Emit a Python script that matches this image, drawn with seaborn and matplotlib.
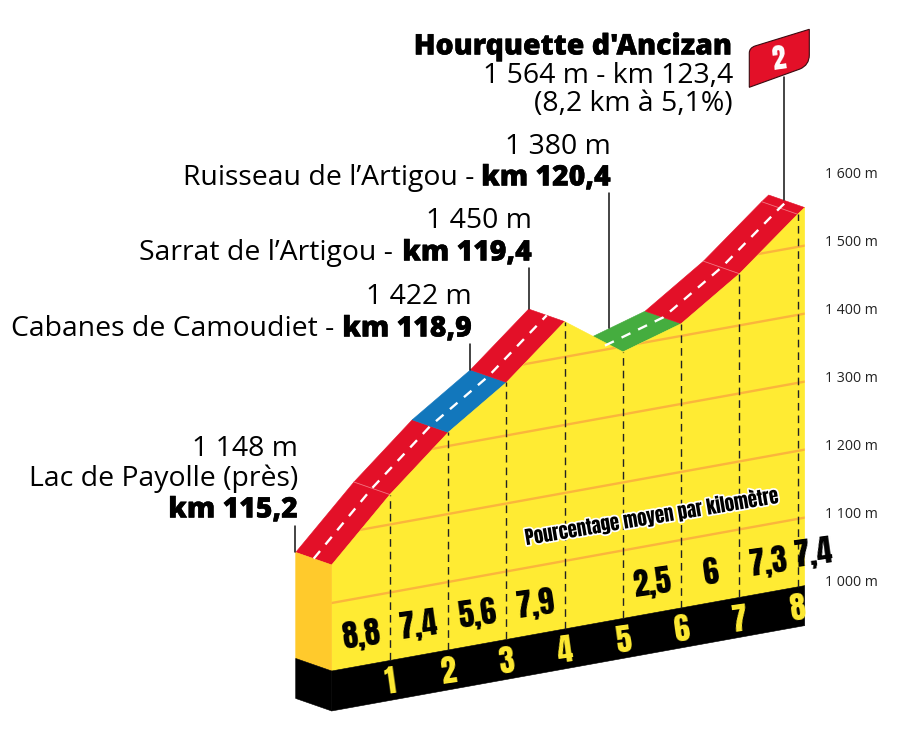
import matplotlib
matplotlib.use("Agg")
import matplotlib.pyplot as plt
import matplotlib.patheffects as pe
from matplotlib.path import Path
from matplotlib.patches import PathPatch
from matplotlib.transforms import Affine2D
import seaborn as sns

# profile
km = [0, 1, 2, 3, 4, 5, 6, 7, 8, 8.12]
alt = [1156, 1244, 1320, 1378, 1452, 1392, 1418, 1476, 1548, 1556]
road_from = [0, 1, 2, 3, 5, 6, 7, 8]
road_colors = ["red", "red", "blue", "red", "green", "red", "red", "red"]
pct_km = [0.5, 1.5, 2.5, 3.5, 5.5, 6.5, 7.5, 8.28]
pct_labels = ["8,8", "7,4", "5,6", "7,9", "2,5", "6", "7,3", "7,4"]
km_ticks = [1, 2, 3, 4, 5, 6, 7, 8]
alt_ticks = [1000, 1100, 1200, 1300, 1400, 1500, 1600]
alt_labels = ["1 000 m", "1 100 m", "1 200 m", "1 300 m", "1 400 m", "1 500 m", "1 600 m"]
grid_alts = [1100, 1200, 1300, 1400, 1500]

RED = "#e31028"
BLUE = "#1277bc"
GREEN = "#45ad3f"
YELLOW = "#ffeb33"
ORANGE = "#ffca2c"
GRID = "#fbb53c"
colors = {"red": RED, "blue": BLUE, "green": GREEN}

sns.set_theme(style="white")
plt.rcParams["font.family"] = ["Open Sans", "DejaVu Sans"]
NARROW = ["Anton", "Barlow Condensed", "Open Sans", "DejaVu Sans"]

fig = plt.figure(figsize=(9.12, 7.3), dpi=100)
ax = fig.add_axes([0, 0, 1, 1])
ax.set_xlim(-331.7 / 58.25, (912 - 331.7) / 58.25)
ax.set_ylim(1000 - 59 / 0.68, 1000 + 671 / 0.68)
ax.axis("off")

# the ground rises to the right on the page, so shear altitude with distance
skew = Affine2D.from_values(1, 15.46, 0, 1, 0, 0) + ax.transData
# pixel coords for labels and leader lines, y going down
px = Affine2D().scale(1, -1).translate(0, 730)

DEPTH_KM = -0.618
DEPTH_ALT = 28
BAND = 58.8


def poly(xs, ys, color, z):
    return ax.fill(xs, ys, color=color, lw=0.4, transform=skew, zorder=z)[0]


# road, behind the face
for start, col in zip(road_from, road_colors):
    i = km.index(start)
    k0, k1 = km[i], km[i + 1]
    a0, a1 = alt[i], alt[i + 1]
    poly([k0, k1, k1 + DEPTH_KM, k0 + DEPTH_KM],
         [a0, a1, a1 + DEPTH_ALT, a0 + DEPTH_ALT], colors[col], 2)

# faint joins across the road
for k in [1, 7, 8]:
    i = km.index(k)
    ax.plot([km[i], km[i] + DEPTH_KM], [alt[i], alt[i] + DEPTH_ALT],
            color="#f2737f", lw=0.6, transform=skew, zorder=3)

# yellow face, end block, black base
face = poly(km + [km[-1], km[0]], alt + [1000, 1000], YELLOW, 4)
poly([0, DEPTH_KM, DEPTH_KM, 0],
     [alt[0], alt[0] + DEPTH_ALT, 1000 + DEPTH_ALT, 1000], ORANGE, 4)
poly([0, km[-1], km[-1], 0], [1000, 1000, 1000 - BAND, 1000 - BAND], "black", 4)
poly([0, DEPTH_KM, DEPTH_KM, 0],
     [1000, 1000 + DEPTH_ALT, 1000 + DEPTH_ALT - BAND, 1000 - BAND], "black", 4)

# altitude lines, only visible on the face
for a in grid_alts:
    sns.lineplot(x=[0, km[-1]], y=[a, a], ax=ax, color=GRID, lw=1.7,
                 transform=skew, zorder=5, estimator=None, sort=False)
    ax.lines[-1].set_clip_path(face.get_path(), face.get_transform())

# km dashes
for k in km_ticks:
    i = km.index(k)
    ax.plot([k, k], [1000, alt[i]], color="#222222", lw=1.0,
            ls=(0, (5.5, 3.6)), transform=skew, zorder=6)

# road centre line, left and right of the descent
for part_k, part_a in [(km[:5], alt[:5]), (km[5:], alt[5:])]:
    sns.lineplot(x=[k + DEPTH_KM / 2 for k in part_k],
                 y=[a + DEPTH_ALT / 2 for a in part_a],
                 ax=ax, color="white", lw=1.7, ls=(0, (4.2, 3.6)),
                 transform=skew, zorder=7, estimator=None, sort=False)
ax.set_xlabel("")
ax.set_ylabel("")

# percentages and km numbers
for k, lab in zip(pct_km, pct_labels):
    ax.annotate(lab, xy=(k, 1045), xycoords=skew, ha="center", va="center",
                fontsize=22.5, family=NARROW, color="black",
                rotation=8, zorder=9)
for k in km_ticks:
    ax.annotate(str(k), xy=(k, 968), xycoords=skew, ha="center", va="center",
                fontsize=22.5, family=NARROW, color="#ffeb33",
                rotation=8, zorder=9)

# altitude scale on the right
for a, lab in zip(alt_ticks, alt_labels):
    ax.annotate(lab, xy=(km[-1], a), xycoords=skew, xytext=(47, 3),
                textcoords="offset pixels", ha="center", va="center",
                fontsize=10.2, color="#222222")

ax.text(651, 516, "Pourcentage moyen par kilomètre", transform=px, ha="center",
        va="center", fontsize=13.5, family=NARROW, color="black",
        rotation=9.5, zorder=9,
        path_effects=[pe.withStroke(linewidth=2.5, foreground="white")])

# leader lines
leaders = [(295, 526, 552), (470, 344, 370), (529.3, 268, 309),
           (609, 193, 328), (784, 77, 200)]
for x, y0, y1 in leaders:
    ax.plot([x, x], [y0, y1], color="#111111", lw=1.1, transform=px, zorder=8)

# summit flag
flag = Path([(749.3, 87.3), (749.3, 53), (749.3, 48), (755, 46), (809.3, 29.3),
             (809.3, 55), (809.3, 65), (800, 69), (749.3, 87.3)],
            [Path.MOVETO, Path.LINETO, Path.CURVE3, Path.CURVE3, Path.LINETO,
             Path.LINETO, Path.CURVE3, Path.CURVE3, Path.LINETO])
ax.add_patch(PathPatch(flag, fc=RED, ec="#3a0a10", lw=0.8, transform=px, zorder=9))
ax.text(779, 59, "2", transform=px, ha="center", va="center", fontsize=20,
        family=NARROW, color="white", rotation=8, zorder=10)


def label(x, y, s, bold=False, size=20.4):
    ax.text(x, y + 2, s, transform=px, ha="right", va="center", fontsize=size,
            weight=800 if bold else "normal", color="black", zorder=10,
            path_effects=[pe.withStroke(linewidth=0.3, foreground="black")] if bold else None)


label(733, 45, "Hourquette d'Ancizan", bold=True, size=20.5)
label(733, 74, "1 564 m - km 123,4")
label(733, 102, "(8,2 km à 5,1%)")
label(611, 145, "1 380 m")
label(474, 176, "Ruisseau de l’Artigou -")
label(611, 176, "km 120,4", bold=True)
label(532, 219, "1 450 m")
label(393, 251, "Sarrat de l’Artigou -")
label(532, 251, "km 119,4", bold=True)
label(472, 295, "1 422 m")
label(334, 327, "Cabanes de Camoudiet -")
label(472, 327, "km 118,9", bold=True)
label(298, 447, "1 148 m")
label(298, 477, "Lac de Payolle (près)")
label(298, 508, "km 115,2", bold=True)

fig.savefig("out.png", dpi=100, facecolor="white")
